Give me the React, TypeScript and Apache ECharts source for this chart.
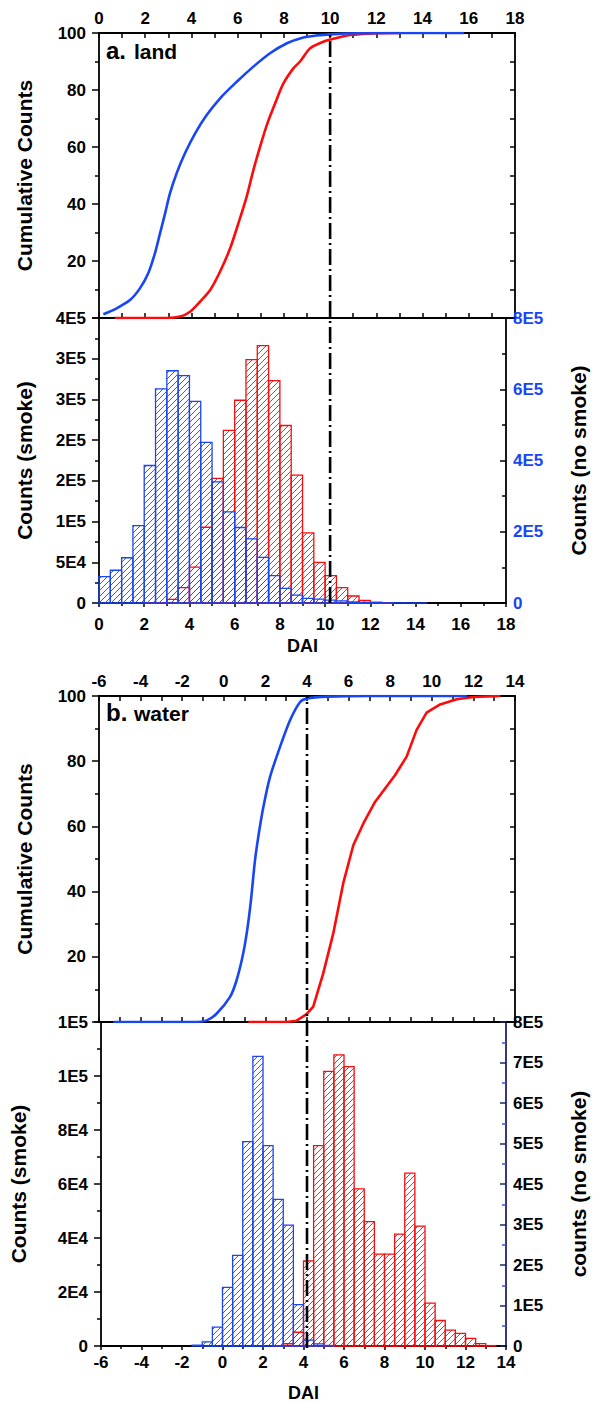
import React, { useEffect, useRef } from "react";
import * as echarts from "echarts";

// ---------- data ----------
const BIN = 0.5;

// panel a (land): bin starts, DAI
const binStartA = [0, 0.5, 1, 1.5, 2, 2.5, 3, 3.5, 4, 4.5, 5, 5.5, 6, 6.5, 7, 7.5, 8, 8.5, 9, 9.5, 10, 10.5, 11, 11.5, 12, 12.5, 13, 13.5, 14, 14.5, 15, 15.5, 16, 16.5, 17, 17.5];
// smoke counts (red, left axis)
const landSmoke = [0, 0, 0, 0, 100, 500, 4500, 19000, 44000, 93000, 153000, 212000, 249000, 299000, 316000, 273000, 218000, 157000, 86000, 50000, 33500, 19000, 8600, 3300, 1000, 300, 0, 0, 0, 0, 0, 0, 0, 0, 0, 0];
// no-smoke counts (blue, right axis)
const landNoSmoke = [74000, 92000, 127000, 217000, 386000, 601000, 652000, 638000, 566000, 451000, 340000, 256000, 212000, 180000, 128000, 77000, 41000, 22000, 13000, 11000, 8000, 6000, 3000, 2000, 1000, 500, 300, 200, 100, 0, 0, 0, 0, 0, 0, 0];

// panel b (water)
const binStartB = [-6, -5.5, -5, -4.5, -4, -3.5, -3, -2.5, -2, -1.5, -1, -0.5, 0, 0.5, 1, 1.5, 2, 2.5, 3, 3.5, 4, 4.5, 5, 5.5, 6, 6.5, 7, 7.5, 8, 8.5, 9, 9.5, 10, 10.5, 11, 11.5, 12, 12.5, 13, 13.5];
// smoke counts (blue, left axis)
const waterSmoke = [0, 0, 0, 0, 0, 0, 0, 0, 0, 300, 1500, 7000, 21700, 33600, 75700, 107300, 74200, 54300, 44800, 15300, 2200, 800, 200, 0, 0, 0, 0, 0, 0, 0, 0, 0, 0, 0, 0, 0, 0, 0, 0, 0];
// no-smoke counts (red, right axis)
const waterNoSmoke = [0, 0, 0, 0, 0, 0, 0, 0, 0, 0, 0, 0, 0, 0, 0, 0, 0, 300, 5600, 34000, 210000, 495000, 678000, 719000, 690000, 388000, 307000, 227000, 227000, 276000, 427000, 296000, 106000, 63000, 39000, 31000, 19000, 6000, 1000, 0];

// cumulative curves (percent)
const cumLandBlueX = [0.19, 0.76, 1.34, 1.77, 2.13, 2.42, 2.64, 2.86, 3.07, 3.36, 3.72, 4.16, 4.66, 5.24, 5.96, 6.68, 7.4, 8.13, 8.7, 9.4, 10.2, 11.2, 12.5, 15.8];
const cumLandBlueY = [1.3, 3.4, 6.3, 10.4, 15.7, 22.7, 29.7, 36.7, 43.7, 50.8, 57.8, 64.8, 71.2, 77.1, 82.9, 88.2, 92.9, 96.4, 98.1, 99.1, 99.6, 99.9, 100, 100];
const cumLandRedX = [0.69, 2.93, 3.51, 3.94, 4.37, 4.81, 5.24, 5.67, 6.03, 6.39, 6.68, 6.97, 7.26, 7.62, 7.98, 8.41, 8.7, 9.13, 9.6, 10, 10.87, 12, 13];
const cumLandRedY = [0, 0, 0.5, 2.2, 5.7, 9.8, 16.3, 24.4, 33.2, 42.6, 51.9, 60.1, 67.7, 75.3, 82.3, 87.6, 90, 94.6, 96.6, 97.7, 99.3, 99.9, 100];
const cumWaterBlueX = [-5.31, -1.47, -0.82, -0.34, 0.3, 0.6, 0.9, 1.1, 1.3, 1.5, 1.7, 1.9, 2.22, 2.7, 3.18, 3.66, 3.98, 5, 7, 11.7];
const cumWaterBlueY = [0, 0, 0.5, 2.6, 7.7, 12.5, 20, 27.1, 37, 49.6, 58.5, 65.9, 75.1, 84.3, 92.5, 98.1, 99.2, 99.8, 100, 100];
const cumWaterRedX = [1.18, 3.02, 3.5, 3.98, 4.3, 4.78, 5.26, 5.74, 6.23, 6.71, 7.27, 8.23, 8.79, 9.27, 9.75, 10.4, 11.2, 12.0, 13.3];
const cumWaterRedY = [0, 0, 0.4, 2.4, 4.7, 14.9, 27.1, 42.5, 54.3, 60.9, 67.5, 75.7, 81.4, 89.6, 94.9, 97.4, 99.0, 99.7, 100];

// thresholds (dash-dot lines)
const thresholdA = 10;
const thresholdB = 4;

// tick labels
const smokeTickLabelsA = ["0", "5E4", "1E5", "2E5", "2E5", "3E5", "3E5", "4E5"];
const noSmokeTickLabelsA = ["0", "2E5", "4E5", "6E5", "8E5"];
const smokeTickLabelsB = ["0", "2E4", "4E4", "6E4", "8E4", "1E5", "1E5"];
const noSmokeTickLabelsB = ["0", "1E5", "2E5", "3E5", "4E5", "5E5", "6E5", "7E5", "8E5"];

// ---------- styles ----------
const FONT = '"Liberation Sans", Arial, Helvetica, sans-serif';
const BLUE = "#1846f5";
const RED = "#ff0a0a";
const BLACK = "#000";

const lineAxis = { onZero: false, lineStyle: { color: BLACK, width: 1.8 } };
const labelStyle = (extra: any = {}) => ({
  color: BLACK,
  fontSize: 17,
  fontWeight: "bold",
  fontFamily: FONT,
  ...extra,
});
const nameStyle = { color: BLACK, fontSize: 21, fontWeight: "bold", fontFamily: FONT };

function hatchSeries(name: string, xAxisIndex: number, yAxisIndex: number, starts: number[], values: number[], color: string, z: number) {
  return {
    type: "custom",
    name,
    xAxisIndex,
    yAxisIndex,
    z,
    silent: true,
    data: starts.map((s, i) => [s, s + BIN, values[i]]),
    encode: { x: [0, 1], y: 2 },
    renderItem: (_params: any, api: any) => {
      const v = api.value(2);
      if (!v) return null;
      const p0 = api.coord([api.value(0), v]);
      const p1 = api.coord([api.value(1), 0]);
      const xa = p0[0], xb = p1[0], ya = p0[1], yb = p1[1];
      const children: any[] = [];
      const S = 6;
      const cStart = Math.ceil((xa + ya) / S) * S;
      for (let c = cStart; c <= xb + yb; c += S) {
        const xs = Math.max(xa, c - yb);
        const xe = Math.min(xb, c - ya);
        if (xe > xs) {
          children.push({
            type: "line",
            shape: { x1: xs, y1: c - xs, x2: xe, y2: c - xe },
            style: { stroke: color, lineWidth: 0.9 },
          });
        }
      }
      children.push({
        type: "rect",
        shape: { x: xa, y: ya, width: xb - xa, height: yb - ya },
        style: { fill: "none", stroke: color, lineWidth: 1.3 },
      });
      return { type: "group", children };
    },
  };
}

function curve(name: string, xAxisIndex: number, yAxisIndex: number, xs: number[], ys: number[], color: string, smooth: any, z: number) {
  return {
    type: "line",
    name,
    xAxisIndex,
    yAxisIndex,
    z,
    silent: true,
    symbol: "none",
    smooth,
    data: xs.map((x, i) => [x, ys[i]]),
    lineStyle: { color, width: 2.6 },
  };
}

function threshold(name: string, xAxisIndex: number, yAxisIndex: number, x: number) {
  return {
    type: "line",
    name,
    xAxisIndex,
    yAxisIndex,
    z: 10,
    silent: true,
    symbol: "none",
    data: [[x, 0], [x, 1]],
    lineStyle: { color: BLACK, width: 2.6, type: [16, 4, 2, 4], cap: "butt" },
  };
}

const L = 99, R = 82;
const grids = [
  { left: L, right: R, top: 33, height: 285 }, // a cumulative
  { left: L, right: R, top: 318, height: 285 }, // a histogram
  { left: L, right: R, top: 33, height: 570 }, // a overlay
  { left: L, right: R, top: 696, height: 326 }, // b cumulative
  { left: L, right: R, top: 1022, height: 326 }, // b histogram
  { left: L, right: R, top: 696, height: 652 }, // b overlay
];

function topX(gridIndex: number, min: number, max: number) {
  return {
    type: "value", gridIndex, position: "top", min, max, interval: 2,
    axisLine: lineAxis,
    axisTick: { show: true, inside: true, length: 5, lineStyle: { color: BLACK, width: 1.5 } },
    minorTick: { show: true, splitNumber: 2, length: 5, lineStyle: { color: BLACK, width: 1.5 } },
    axisLabel: labelStyle({ margin: 6 }),
    splitLine: { show: false },
  };
}
function midX(gridIndex: number, min: number, max: number) {
  return {
    type: "value", gridIndex, position: "bottom", min, max, interval: 2,
    axisLine: lineAxis,
    axisTick: { show: true, inside: true, length: 5, lineStyle: { color: BLACK, width: 1.5 } },
    minorTick: { show: true, splitNumber: 2, length: 5, lineStyle: { color: BLACK, width: 1.5 } },
    axisLabel: { show: false },
    splitLine: { show: false },
  };
}
function bottomX(gridIndex: number, min: number, max: number, margin: number, nameGap: number) {
  return {
    type: "value", gridIndex, position: "bottom", min, max, interval: 2,
    name: "DAI", nameLocation: "middle", nameGap, nameTextStyle: { ...nameStyle, fontSize: 18 },
    axisLine: lineAxis,
    axisTick: { show: true, inside: false, length: 4, lineStyle: { color: BLACK, width: 1.5 } },
    minorTick: { show: true, splitNumber: 2, length: 3, lineStyle: { color: BLACK, width: 1.5 } },
    axisLabel: labelStyle({ margin }),
    splitLine: { show: false },
  };
}
function hiddenX(gridIndex: number, min: number, max: number) {
  return { type: "value", gridIndex, min, max, show: false, splitLine: { show: false } };
}
function hiddenY(gridIndex: number) {
  return { type: "value", gridIndex, min: 0, max: 1, show: false, splitLine: { show: false } };
}
function cumLeftY(gridIndex: number) {
  return {
    type: "value", gridIndex, position: "left", min: 0, max: 100, interval: 20,
    name: "Cumulative Counts", nameLocation: "middle", nameRotate: 90, nameGap: 64, nameTextStyle: nameStyle,
    axisLine: lineAxis,
    axisTick: { show: true, inside: false, length: 7, lineStyle: { color: BLACK, width: 1.5 } },
    minorTick: { show: true, splitNumber: 2, length: 4, lineStyle: { color: BLACK, width: 1.5 } },
    axisLabel: labelStyle({ margin: 13, formatter: (v: number) => (v === 0 ? "" : String(v)) }),
    splitLine: { show: false },
  };
}
function cumRightY(gridIndex: number) {
  return {
    type: "value", gridIndex, position: "right", min: 0, max: 100, interval: 10,
    axisLine: lineAxis,
    axisTick: { show: true, inside: true, length: 5, lineStyle: { color: BLACK, width: 1.5 } },
    axisLabel: { show: false },
    splitLine: { show: false },
  };
}
function countY(gridIndex: number, position: string, max: number, interval: number, labels: string[], name: string, nameGap: number, labelColor: string, inside: boolean, axisColor: string, tickColor: string) {
  return {
    type: "value", gridIndex, position, min: 0, max, interval,
    name, nameLocation: "middle", nameRotate: 90, nameGap, nameTextStyle: nameStyle,
    axisLine: { onZero: false, lineStyle: { color: axisColor, width: 1.8 } },
    axisTick: { show: true, inside, length: inside ? 6 : 7, lineStyle: { color: axisColor, width: 1.5 } },
    minorTick: { show: true, splitNumber: 2, length: 4, lineStyle: { color: tickColor, width: 1.5 } },
    axisLabel: labelStyle({
      color: labelColor,
      margin: position === "left" ? 13 : 7,
      formatter: (v: number) => labels[Math.round(v / interval)] ?? "",
    }),
    splitLine: { show: false },
  };
}

export default function App() {
  const ref = useRef<HTMLDivElement>(null);
  useEffect(() => {
    if (!ref.current) return;
    const chart = echarts.init(ref.current, undefined, { renderer: "svg" });
    chart.setOption({
      animation: false,
      backgroundColor: "#fff",
      textStyle: { fontFamily: FONT },
      grid: grids,
      xAxis: [
        topX(0, 0, 18), // 0
        midX(0, 0, 18), // 1
        bottomX(1, 0, 18, 13, 34), // 2
        hiddenX(2, 0, 18), // 3
        topX(3, -6, 14), // 4
        midX(3, -6, 14), // 5
        bottomX(4, -6, 14, 8, 38), // 6
        hiddenX(5, -6, 14), // 7
      ],
      yAxis: [
        cumLeftY(0), // 0
        cumRightY(0), // 1
        countY(1, "left", 350000, 50000, smokeTickLabelsA, "Counts (smoke)", 64, BLACK, false, BLACK, BLACK), // 2
        countY(1, "right", 800000, 200000, noSmokeTickLabelsA, "Counts (no smoke)", 62, BLUE, true, BLACK, BLACK), // 3
        hiddenY(2), // 4
        cumLeftY(3), // 5
        cumRightY(3), // 6
        countY(4, "left", 120000, 20000, smokeTickLabelsB, "Counts (smoke)", 72, BLACK, false, BLACK, BLACK), // 7
        countY(4, "right", 800000, 100000, noSmokeTickLabelsB, "counts (no smoke)", 62, BLACK, true, "#1c2470", "#3a55c8"), // 8
        hiddenY(5), // 9
      ],
      series: [
        curve("land smoke cumulative", 0, 0, cumLandRedX, cumLandRedY, RED, 0.3, 3),
        curve("land no smoke cumulative", 0, 0, cumLandBlueX, cumLandBlueY, BLUE, 0.3, 4),
        hatchSeries("land smoke", 2, 2, binStartA, landSmoke, RED, 2),
        hatchSeries("land no smoke", 2, 3, binStartA, landNoSmoke, BLUE, 3),
        threshold("land threshold", 3, 4, thresholdA),
        curve("water no smoke cumulative", 4, 5, cumWaterRedX, cumWaterRedY, RED, false, 3),
        curve("water smoke cumulative", 4, 5, cumWaterBlueX, cumWaterBlueY, BLUE, 0.3, 4),
        hatchSeries("water no smoke", 6, 8, binStartB, waterNoSmoke, RED, 2),
        hatchSeries("water smoke", 6, 7, binStartB, waterSmoke, BLUE, 3),
        threshold("water threshold", 7, 9, thresholdB),
      ],
      graphic: [
        { type: "text", x: 106, y: 50, style: { text: "a.", font: `bold 24px ${FONT}`, fill: BLACK, align: "left", verticalAlign: "middle" } },
        { type: "text", x: 134, y: 51, style: { text: "land", font: `bold 21px ${FONT}`, fill: BLACK, align: "left", verticalAlign: "middle" } },
        { type: "text", x: 106, y: 712, style: { text: "b.", font: `bold 24px ${FONT}`, fill: BLACK, align: "left", verticalAlign: "middle" } },
        { type: "text", x: 134, y: 713, style: { text: "water", font: `bold 21px ${FONT}`, fill: BLACK, align: "left", verticalAlign: "middle" } },
      ],
    });
    return () => chart.dispose();
  }, []);
  return <div ref={ref} style={{ position: "absolute", left: 0, top: 0, width: 597, height: 1403 }} />;
}
